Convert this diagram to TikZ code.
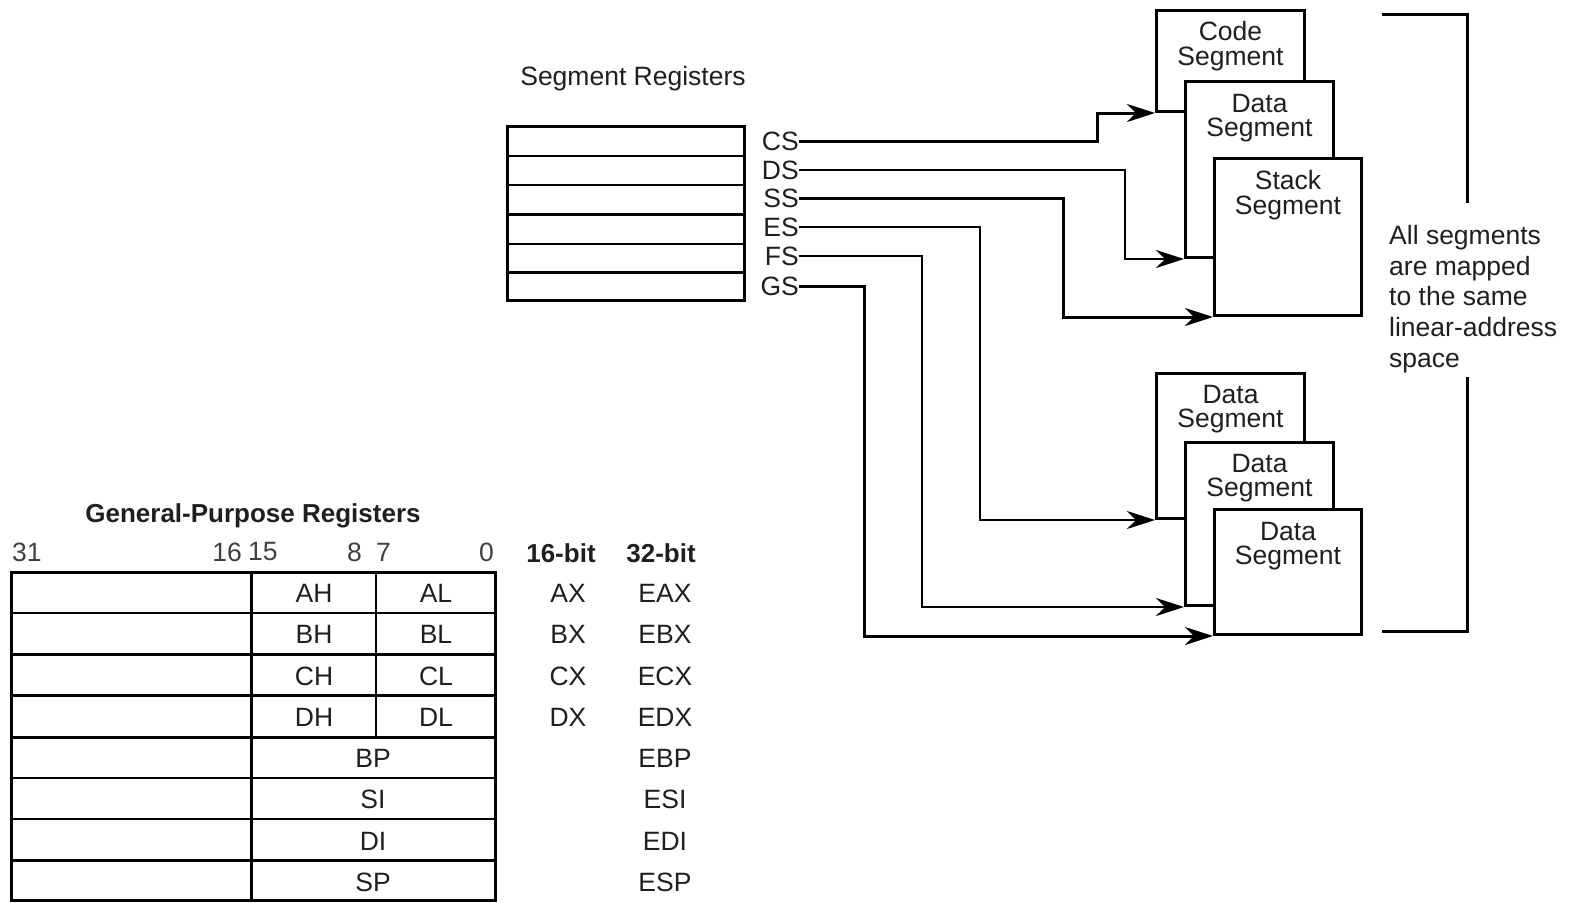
\documentclass[tikz,border=0pt]{standalone}
\usepackage{fontspec}
\setmainfont{Liberation Sans}
\usetikzlibrary{arrows.meta,calc}
\begin{document}
\begin{tikzpicture}[x=1pt,y=-1pt,
  every node/.style={font=\fontsize{26.5}{24.5}\selectfont, text=black!88, inner sep=0pt},
  thickln/.style={line width=3pt},
  midln/.style={line width=2.2pt},
  thinln/.style={line width=1.6pt},
  segbox/.style={draw, line width=3pt, fill=white, anchor=north west, inner sep=0pt},
  segtext/.style={align=center},
  conn/.style={-{Stealth[length=28pt,width=18pt,inset=9pt]}},
  numlbl/.style={text=black!75},
]
\useasboundingbox (0,0) rectangle (1570,902);

% ---------- Segment registers ----------
\node (segtitle) at (633,79) {Segment Registers};
\draw[thickln] (507,126) rectangle (744,300);
\draw[midln] (507,156) -- (744,156);
\draw[midln] (507,185) -- (744,185);
\draw[thickln] (507,214) -- (744,214);
\draw[midln] (507,244) -- (744,244);
\draw[thickln] (507,272) -- (744,272);

\node[anchor=east] (cs) at (799,141) {CS};
\node[anchor=east] (ds) at (799,170) {DS};
\node[anchor=east] (ss) at (799,198) {SS};
\node[anchor=east] (es) at (799,227) {ES};
\node[anchor=east] (fs) at (799,256) {FS};
\node[anchor=east] (gs) at (799,286) {GS};

% ---------- Upper segment group ----------
\node[segbox, minimum width=148pt, minimum height=101pt] (code) at (1155,9) {};
\node[segtext] (codet) at ([yshift=-37pt]code.north) {Code\\Segment};
\node[segbox, minimum width=148pt, minimum height=176pt] (data1) at (1184,80) {};
\node[segtext] (data1t) at ([yshift=-38pt]data1.north) {Data\\Segment};
\node[segbox, minimum width=147pt, minimum height=157pt] (stack) at (1213,157) {};
\node[segtext] (stackt) at ([yshift=-38pt]stack.north) {Stack\\Segment};

% ---------- Lower segment group ----------
\node[segbox, minimum width=148pt, minimum height=145pt] (d1) at (1155,372) {};
\node[segtext] (d1t) at ([yshift=-37pt]d1.north) {Data\\Segment};
\node[segbox, minimum width=148pt, minimum height=163pt] (d2) at (1184,441) {};
\node[segtext] (d2t) at ([yshift=-37pt]d2.north) {Data\\Segment};
\node[segbox, minimum width=147pt, minimum height=125pt] (d3) at (1213,508) {};
\node[segtext] (d3t) at ([yshift=-38pt]d3.north) {Data\\Segment};

% ---------- Connectors ----------
\draw[thickln, conn] (cs.east) -| ([xshift=-58pt]code.south west) -- (code.south west);
\draw[thinln, conn] (ds.east) -| ([xshift=-59pt]data1.south west) -- (data1.south west);
\draw[thickln, conn] (ss.east) -| ([xshift=-150pt]stack.south west) -- (stack.south west);
\draw[thinln, conn] (es.east) -| ([xshift=-175pt]d1.south west) -- (d1.south west);
\draw[thinln, conn] (fs.east) -| ([xshift=-262pt]d2.south west) -- (d2.south west);
\draw[thickln, conn] (gs.east) -| ([xshift=-349pt]d3.south west) -- (d3.south west);

% ---------- Bracket and note ----------
\draw[thickln] (1382,14) -| (1467,203);
\draw[thickln] (1467,377) |- (1382,631);
\node[anchor=west, align=left, font=\fontsize{26.5}{30.8}\selectfont] (note) at (1389,299)
  {All segments\\are mapped\\to the same\\linear-address\\space};

% ---------- General-purpose registers ----------
\node[font=\bfseries\fontsize{26}{26}\selectfont] (gptitle) at (253,516) {General-Purpose Registers};
\node[numlbl, anchor=west] (b31) at (12,552) {31};
\node[numlbl, anchor=east] (b16) at (242,552) {16};
\node[numlbl, anchor=west] (b15) at (248,552) {15};
\node[numlbl, anchor=east] (b8) at (362,552) {8};
\node[numlbl, anchor=west] (b7) at (376,552) {7};
\node[numlbl, anchor=east] (b0) at (494,552) {0};
\node[font=\bfseries\fontsize{26}{26}\selectfont] (h16) at (561,553) {16-bit};
\node[font=\bfseries\fontsize{26}{26}\selectfont] (h32) at (661,553) {32-bit};

\draw[thickln] (11,572) rectangle (495,900);
\draw[midln] (11,613) -- (495,613);
\draw[thickln] (11,654) -- (495,654);
\draw[thickln] (11,695) -- (495,695);
\draw[thickln] (11,737) -- (495,737);
\draw[midln] (11,778) -- (495,778);
\draw[midln] (11,819) -- (495,819);
\draw[thickln] (11,860) -- (495,860);
\draw[thickln] (251,572) -- (251,900);
\draw[midln] (376,572) -- (376,737);

\foreach \y/\h/\l/\x/\e in {593.5/AH/AL/AX/EAX, 634.5/BH/BL/BX/EBX, 676/CH/CL/CX/ECX, 717/DH/DL/DX/EDX}{
  \node (\h) at (314,\y) {\h};
  \node (\l) at (436,\y) {\l};
  \node (\x) at (568,\y) {\x};
  \node (\e) at (665,\y) {\e};
}
\foreach \y/\r/\e in {758.5/BP/EBP, 799.5/SI/ESI, 841/DI/EDI, 882/SP/ESP}{
  \node (\r) at (373,\y) {\r};
  \node (\e) at (665,\y) {\e};
}
\end{tikzpicture}
\end{document}
